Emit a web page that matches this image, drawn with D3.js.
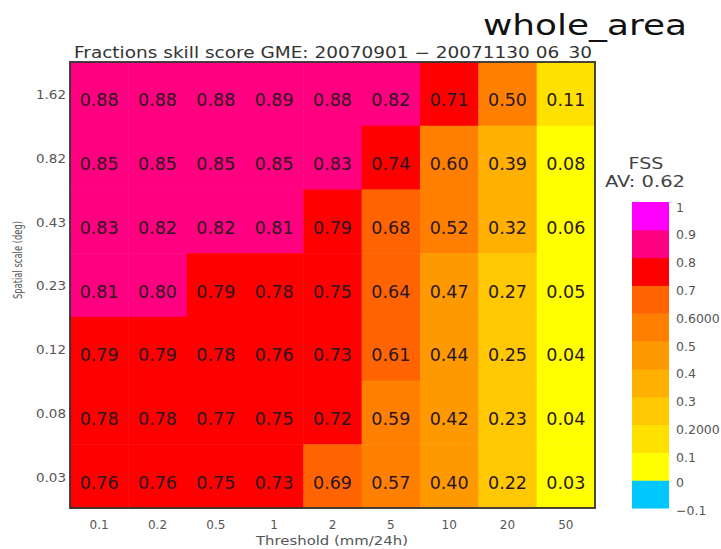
<!DOCTYPE html>
<html><head><meta charset="utf-8">
<script src="https://cdn.jsdelivr.net/npm/d3@7"></script>
<style>
html,body{margin:0;padding:0;background:#fff;overflow:hidden;}
text{font-family:"DejaVu Sans","Liberation Sans",Arial,sans-serif;}
</style></head>
<body><svg id="c" width="721" height="549"></svg>
<script>
const thresholds = ["0.1","0.2","0.5","1","2","5","10","20","50"];
const scales = ["1.62","0.82","0.43","0.23","0.12","0.08","0.03"];
// values as printed; the "0.60" cell is drawn in the 0.5-0.6 colour in the original, so it is just under 0.6
const row162 = [0.88,0.88,0.88,0.89,0.88,0.82,0.71,0.50,0.11];
const row082 = [0.85,0.85,0.85,0.85,0.83,0.74,0.598,0.39,0.08];
const row043 = [0.83,0.82,0.82,0.81,0.79,0.68,0.52,0.32,0.06];
const row023 = [0.81,0.80,0.79,0.78,0.75,0.64,0.47,0.27,0.05];
const row012 = [0.79,0.79,0.78,0.76,0.73,0.61,0.44,0.25,0.04];
const row008 = [0.78,0.78,0.77,0.75,0.72,0.59,0.42,0.23,0.04];
const row003 = [0.76,0.76,0.75,0.73,0.69,0.57,0.40,0.22,0.03];
const rows = [row162,row082,row043,row023,row012,row008,row003];
const levels = [-0.1,0,0.1,0.2,0.3,0.4,0.5,0.6,0.7,0.8,0.9,1];
const levelLabels = ["\u22120.1","0","0.1","0.2000","0.3","0.4","0.5","0.6000","0.7","0.8","0.9","1"];
const palette = ["#00C8FF","#FFFF00","#FFE100","#FFC800","#FFB000","#FF9900","#FF8000","#FF6400","#FF0000","#FF0080","#FF00FF"];
const title = "Fractions skill score GME: 20070901 \u2212 20071130 06_30";
const areaName = "whole_area";
const avLabel = "AV: 0.62";

const svg = d3.select("#c");
const L=70,R=595,T=62,B=508;
const x = d3.scaleBand().domain(thresholds).range([L,R]);
const y = d3.scaleBand().domain(scales).range([T,B]);
const color = d3.scaleThreshold().domain(levels.slice(1,-1)).range(palette);
const SG = "spacingAndGlyphs";

const cells=[];
rows.forEach((r,i)=>r.forEach((v,j)=>cells.push({s:scales[i],t:thresholds[j],v})));
const g = svg.append("g");
g.selectAll("rect").data(cells).join("rect")
 .attr("x",d=>x(d.t)).attr("y",d=>y(d.s))
 .attr("width",x.bandwidth()+0.5).attr("height",y.bandwidth()+0.5)
 .attr("fill",d=>color(d.v));
g.selectAll("text").data(cells).join("text")
 .attr("x",d=>x(d.t)+x.bandwidth()/2).attr("y",d=>y(d.s)+y.bandwidth()/2+12.5)
 .attr("text-anchor","middle").attr("font-size",17.5).attr("fill","#2a1620")
 .attr("textLength",39).attr("lengthAdjust",SG)
 .text(d=>d.v.toFixed(2));
svg.append("rect").attr("x",L).attr("y",T).attr("width",R-L).attr("height",B-T)
 .attr("fill","none").attr("stroke","#333").attr("stroke-width",1.8);

// axes
const xa = svg.append("g").attr("transform",`translate(0,${B})`)
 .call(d3.axisBottom(x).tickSize(0).tickPadding(10));
const ya = svg.append("g").attr("transform",`translate(${L},0)`)
 .call(d3.axisLeft(y).tickSize(0).tickPadding(4));
[xa,ya].forEach(a=>{a.select(".domain").remove();
 a.selectAll("text").attr("font-size",12).attr("fill","#555")
  .attr("font-family","DejaVu Sans, Liberation Sans, sans-serif");});
ya.selectAll("text").attr("textLength",30).attr("lengthAdjust",SG).attr("dy","0.45em");
xa.selectAll("text").attr("dy","0.9em");

svg.append("text").attr("x",332).attr("y",545).attr("text-anchor","middle")
 .attr("font-size",12).attr("fill","#555").attr("textLength",152).attr("lengthAdjust",SG)
 .text("Threshold (mm/24h)");
svg.append("text").attr("transform","translate(22,260) rotate(-90)")
 .attr("text-anchor","middle").attr("font-size",11.5).attr("fill","#555")
 .attr("textLength",78).attr("lengthAdjust",SG).text("Spatial scale (deg)");
svg.append("text").attr("x",74).attr("y",58).attr("font-size",15).attr("fill","#333")
 .attr("textLength",518).attr("lengthAdjust",SG).text(title);
svg.append("text").attr("x",483).attr("y",35).attr("font-size",29).attr("fill","#111")
 .attr("font-family","Liberation Sans, Arial, sans-serif")
 .attr("textLength",204).attr("lengthAdjust",SG).text(areaName);
svg.append("text").attr("x",646).attr("y",169).attr("text-anchor","middle").attr("font-size",15.5).attr("fill","#444")
 .attr("textLength",35).attr("lengthAdjust",SG).text("FSS");
svg.append("text").attr("x",645).attr("y",187).attr("text-anchor","middle").attr("font-size",15).attr("fill","#444")
 .attr("textLength",80).attr("lengthAdjust",SG).text(avLabel);

// colorbar
const cy = d3.scaleLinear().domain([-0.1,1]).range([508,202]);
const bands = palette.map((c,i)=>({lo:levels[i],hi:levels[i+1],c}));
svg.append("g").selectAll("rect").data(bands).join("rect")
 .attr("x",632).attr("width",37)
 .attr("y",d=>cy(d.hi)).attr("height",d=>cy(d.lo)-cy(d.hi)+0.5)
 .attr("fill",d=>d.c);
svg.append("g").selectAll("text").data(levels).join("text")
 .attr("x",676).attr("y",(d)=>cy(d)+(d<0.05?7:9.5))
 .attr("font-size",12.5).attr("fill","#555")
 .text((d,i)=>levelLabels[i]);
</script></body></html>
